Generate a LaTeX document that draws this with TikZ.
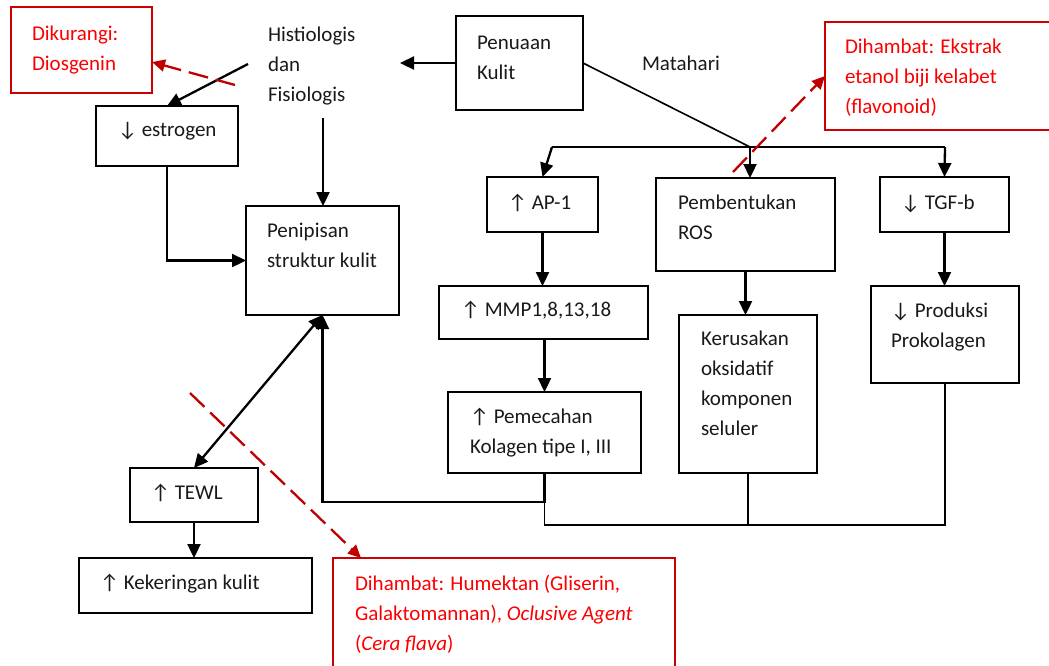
\documentclass[tikz,border=0pt]{standalone}
\usepackage{fontspec}
\setmainfont{Carlito}
\usetikzlibrary{arrows.meta,calc}
\definecolor{rtext}{RGB}{250,0,0}
\definecolor{rboxc}{RGB}{204,0,0}
\definecolor{rdashc}{RGB}{192,0,0}
\begin{document}
\begin{tikzpicture}[x=1pt,y=-1pt,
  every node/.style={font=\fontsize{21}{30}\selectfont, inner sep=0pt, outer sep=0pt},
  box/.style={draw, line width=1.5pt, rectangle, anchor=north west},
  redbox/.style={draw=rboxc, line width=1.5pt, rectangle, anchor=north west},
  txt/.style={anchor=base west, text=black!90},
  rtxt/.style={anchor=base west, text=rtext},
  arr/.style={line width=2.3pt, -{Triangle[length=14pt,width=13pt]}},
  darr/.style={line width=2.3pt, {Triangle[length=14pt,width=13pt]}-{Triangle[length=14pt,width=13pt]}},
  conn/.style={line width=1.6pt},
  rdash/.style={draw=rdashc, line width=2.3pt, dash pattern=on 20pt off 8pt, -{Triangle[length=13pt,width=12pt]}},
]
\useasboundingbox (0,0) rectangle (1049,665);

% boxes
\node[redbox, minimum width=141pt, minimum height=86pt] (dik) at (11,7) {};
\node[box, minimum width=127pt, minimum height=94pt] (pen) at (456,16) {};
\node[redbox, minimum width=240pt, minimum height=108pt] (eks) at (825,22) {};
\node[box, minimum width=142pt, minimum height=60pt] (est) at (96,106) {};
\node[box, minimum width=111pt, minimum height=55pt] (ap1) at (487,177) {};
\node[box, minimum width=179pt, minimum height=93pt] (ros) at (656,178) {};
\node[box, minimum width=129pt, minimum height=55pt] (tgf) at (880,177) {};
\node[box, minimum width=153pt, minimum height=109pt] (tip) at (246,206) {};
\node[box, minimum width=209pt, minimum height=53pt] (mmp) at (439,286) {};
\node[box, minimum width=193pt, minimum height=81pt] (pem) at (448,392) {};
\node[box, minimum width=138pt, minimum height=158pt] (ker) at (679,315) {};
\node[box, minimum width=148pt, minimum height=97pt] (pro) at (871,286) {};
\node[box, minimum width=128pt, minimum height=54pt] (tewl) at (130,468) {};
\node[box, minimum width=233pt, minimum height=55pt] (kek) at (79,558) {};
\node[redbox, minimum width=342pt, minimum height=130pt] (hum) at (333,558) {};

% texts
\node[rtxt] (dikt) at (32,40) {\vtop{\hbox{Dikurangi:}\hbox{Diosgenin}}};
\node[txt] (his) at (268,41) {\vtop{\hbox{Histiologis}\hbox{dan}\hbox{Fisiologis}}};
\node[txt] (pent) at (477,49) {\vtop{\hbox{Penuaan}\hbox{Kulit}}};
\node[txt] (mat) at (642,70) {Matahari};
\node[rtxt] (ekst) at (845,53) {\vtop{\hbox{Dihambat: Ekstrak}\hbox{etanol biji kelabet}\hbox{(flavonoid)}}};
\node[txt] (estt) at (118,136) {↓ estrogen};
\node[txt] (ap1t) at (508,209) {↑ AP-1};
\node[txt] (rost) at (678,209) {\vtop{\hbox{Pembentukan}\hbox{ROS}}};
\node[txt] (tgft) at (901,209) {↓ TGF-b};
\node[txt] (tipt) at (267,237) {\vtop{\hbox{Penipisan}\hbox{struktur kulit}}};
\node[txt] (mmpt) at (461,316) {↑ MMP1,8,13,18};
\node[txt] (prot) at (891,317) {\vtop{\hbox{↓ Produksi}\hbox{Prokolagen}}};
\node[txt] (kert) at (701,345) {\vtop{\hbox{Kerusakan}\hbox{oksidatif}\hbox{komponen}\hbox{seluler}}};
\node[txt] (pemt) at (470,423) {\vtop{\hbox{↑ Pemecahan}\hbox{Kolagen tipe I, III}}};
\node[txt] (tewlt) at (151,499) {↑ TEWL};
\node[txt] (kekt) at (100,589) {↑ Kekeringan kulit};
\node[rtxt] (humt) at (355,590) {\vtop{\hbox{Dihambat: Humektan (Gliserin,}\hbox{Galaktomannan), \textit{Oclusive Agent}}\hbox{(\textit{Cera flava})}}};

% coordinates
\coordinate (hisR) at (400,63);
\coordinate (jn) at (750,147);
\coordinate (jL) at (552,147);
\coordinate (jR) at (945,147);
\coordinate (hisL) at (248,64);
\coordinate (hisB) at (323,118);
\coordinate (fb) at (322.5,502);
\coordinate (bot) at (545,525);
\coordinate (rd1) at (235,85);
\coordinate (rd2) at (733,172);
\coordinate (rd3) at (190,393);

% black connectors
\draw[arr] (pen.west) -- (hisR);
\draw[conn] (pen.east) -- (jn);
\draw[conn] (jL) -- (jR);
\draw[arr] (jL) -- (ap1.north);
\draw[arr] (jn) -- (jn |- ros.north);
\draw[arr] (jR) -- (tgf.north);
\draw[arr] (hisL) -- (est.north);
\draw[arr] (hisB) -- (hisB |- tip.north);
\draw[arr] (est.south) |- (tip.west);
\draw[arr] (ap1.south) -- (ap1.south |- mmp.north);
\draw[arr] (pem.north |- mmp.south) -- (pem.north);
\draw[arr] (ros.south) -- (ros.south |- ker.north);
\draw[arr] (tgf.south) -- (tgf.south |- pro.north);
\draw[darr] (tip.south) -- (tewl.north);
\draw[arr] (tewl.south) -- (tewl.south |- kek.north);
\draw[arr] (pem.south) -- (pem.south |- fb) -- (fb) -- (tip.south);
\draw[conn] (pem.south) -- (pem.south |- bot) -| (pro.south);
\draw[conn] (ker.south) -- (ker.south |- bot);

% red dashed
\draw[rdash] (rd1) -- ($(dik.south east)!0.36!(dik.north east)$);
\draw[rdash] (rd2) -- (eks.west);
\draw[rdash] (rd3) -- ($(hum.north west)+(28,0)$);
\end{tikzpicture}
\end{document}
